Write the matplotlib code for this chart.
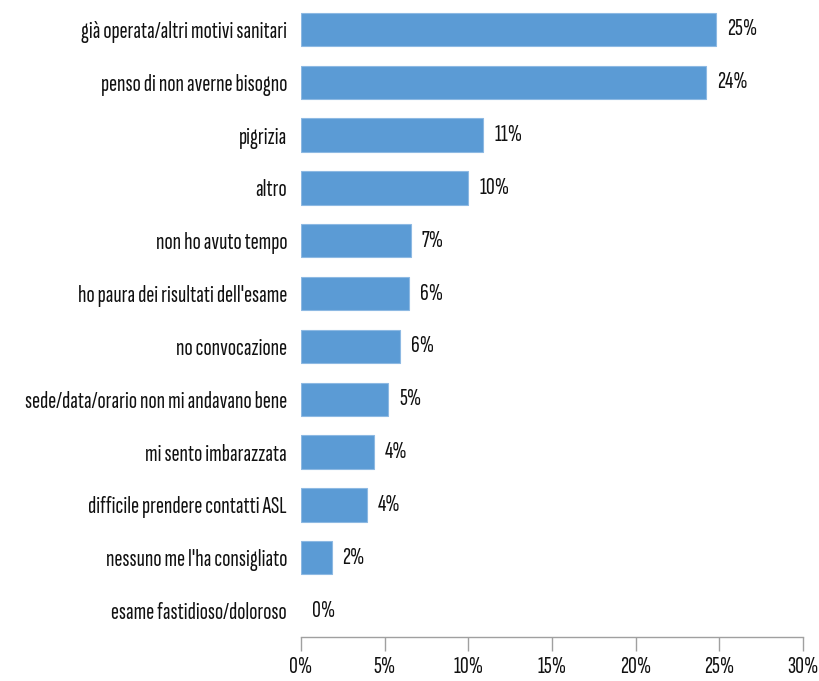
import matplotlib
matplotlib.use("Agg")
import matplotlib.pyplot as plt
from matplotlib.ticker import FuncFormatter

# Reasons given, top to bottom, with share of respondents (%)
reasons = [
    "già operata/altri motivi sanitari",
    "penso di non averne bisogno",
    "pigrizia",
    "altro",
    "non ho avuto tempo",
    "ho paura dei risultati dell'esame",
    "no convocazione",
    "sede/data/orario non mi andavano bene",
    "mi sento imbarazzata",
    "difficile prendere contatti ASL",
    "nessuno me l'ha consigliato",
    "esame fastidioso/doloroso",
]
shares = [24.8, 24.2, 10.9, 10.0, 6.55, 6.45, 5.9, 5.2, 4.35, 3.96, 1.83, 0.0]
xticks = [0, 5, 10, 15, 20, 25, 30]

plt.rcParams["font.family"] = ["Sofia Sans Extra Condensed", "DejaVu Sans"]
plt.rcParams["font.weight"] = "normal"
FS = 17.5
INK = "#111111"

fig = plt.figure(figsize=(8.19, 6.81), dpi=100)
ax = fig.add_axes([0.3675, 0.0646, 0.613, 0.931])

ypos = list(range(len(reasons)))
bars = ax.barh(ypos, shares, height=0.63, color="#5B9BD5", edgecolor="#8DB9E3", linewidth=0.8)
for b, v in zip(bars, shares):
    if v == 0:
        b.set_linewidth(0)

for y, v in zip(ypos, shares):
    ax.text(v + 0.65, y, f"{v:.0f}%", va="center", ha="left", fontsize=FS, color=INK)

ax.set_yticks(ypos)
ax.set_yticklabels(reasons, fontsize=FS, color=INK)
ax.set_ylim(len(reasons) - 0.5, -0.5)
ax.set_xlim(0, 30)
ax.set_xticks(xticks)
ax.xaxis.set_major_formatter(FuncFormatter(lambda x, _: f"{x:.0f}%"))
ax.tick_params(axis="x", labelsize=FS, length=10, width=1, color="#A0A0A0",
               pad=4, labelcolor=INK)
ax.tick_params(axis="y", length=0, pad=10)

for side in ("top", "right", "left"):
    ax.spines[side].set_visible(False)
ax.spines["bottom"].set_color("#A0A0A0")
ax.spines["bottom"].set_linewidth(1)

fig.savefig("out.png", dpi=100)
